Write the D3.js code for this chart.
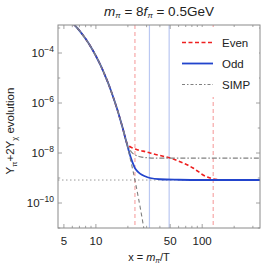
<!DOCTYPE html>
<html><head><meta charset="utf-8">
<script src="https://cdn.jsdelivr.net/npm/d3@7"></script>
<style>body{margin:0;background:#fff}svg{display:block}text{font-family:"Liberation Sans",Arial,sans-serif;fill:#222}</style>
</head><body>
<script>
// ---- data ----
// shared equilibrium part (all curves coincide here)
const commonX = [5.5, 6, 7, 8, 9, 10, 11, 12, 13, 14, 15, 16, 17, 18, 19];
const commonY = [2.3e-3, 1.62e-3, 7.9e-4, 3.7e-4, 1.7e-4, 7.6e-5, 3.4e-5, 1.48e-5, 6.5e-6, 2.75e-6, 1.17e-6, 5.0e-7, 2.1e-7, 8.9e-8, 3.7e-8];
const eqTailX   = [19.6, 20, 21, 22, 23, 24, 25, 26, 27, 28, 29, 30];
const eqTailY   = [2.2e-8, 1.55e-8, 6.3e-9, 2.6e-9, 1.08e-9, 4.4e-10, 1.8e-10, 7.4e-11, 3e-11, 1.2e-11, 5e-12, 2e-12];
const oddTailX  = [19.6, 20.3, 21, 21.7, 22.5, 23.3, 24.5, 26, 29, 32.3, 40, 60, 100, 350];
const oddTailY  = [2.3e-8, 1.32e-8, 7.9e-9, 5.2e-9, 3.5e-9, 2.5e-9, 1.9e-9, 1.5e-9, 1.17e-9, 1e-9, 8.9e-10, 8.5e-10, 8.3e-10, 8.3e-10];
const evenTailX = [19.6, 20.5, 22, 25, 30, 35, 42, 50, 62, 72, 82, 92, 102, 115, 127, 150, 200, 350];
const evenTailY = [2.4e-8, 1.9e-8, 1.6e-8, 1.32e-8, 1.1e-8, 9.1e-9, 7.6e-9, 6.3e-9, 4.5e-9, 3.4e-9, 2.5e-9, 1.8e-9, 1.32e-9, 1.05e-9, 9.1e-10, 8.5e-10, 8.3e-10, 8.3e-10];
const simpTailX = [19.6, 20.5, 21.5, 23, 26, 30, 40, 350];
const simpTailY = [2.4e-8, 1.6e-8, 1.12e-8, 8.7e-9, 7.1e-9, 6.5e-9, 6.2e-9, 6.2e-9];
const relicY = 8.3e-10;
const evenMarks = [23.3, 127];
const oddMarks  = [31.9, 48.9];
const xTickMajor = [5, 10, 50, 100];
const xTickMinor = [6, 7, 8, 9, 20, 30, 40, 60, 70, 80, 90, 200, 300];
const yTickMajor = [-4, -6, -8, -10];
const yTickMinor = [-3, -5, -7, -9, -11];
const legendNames = ["Even", "Odd", "SIMP"];

// ---- layout ----
const W = 266, H = 271;
const L = 58, R = 260, T = 25, B = 228;
const x = d3.scaleLog().domain([4.4, 350]).range([L, R]);
const y = d3.scaleLog().domain([1e-11, Math.pow(10, -2.88)]).range([B, T]);

const svg = d3.select("body").append("svg").attr("width", W).attr("height", H);
svg.append("defs").append("clipPath").attr("id", "clip")
  .append("rect").attr("x", L).attr("y", T).attr("width", R - L).attr("height", B - T);
const g = svg.append("g").attr("clip-path", "url(#clip)");

// vertical markers
g.selectAll(".em").data(evenMarks).enter().append("line")
  .attr("x1", d => x(d)).attr("x2", d => x(d)).attr("y1", T).attr("y2", B)
  .attr("stroke", "#f7a8a8").attr("stroke-width", 1.2).attr("stroke-dasharray", "4,3");
g.selectAll(".om").data(oddMarks).enter().append("line")
  .attr("x1", d => x(d)).attr("x2", d => x(d)).attr("y1", T).attr("y2", B)
  .attr("stroke", "#bac8f2").attr("stroke-width", 1.2);
// relic dotted
g.append("line").attr("x1", L).attr("x2", R).attr("y1", y(relicY)).attr("y2", y(relicY))
  .attr("stroke", "#999").attr("stroke-width", 1).attr("stroke-dasharray", "1.5,2.5");

const line = d3.line().x(d => x(d[0])).y(d => y(d[1])).curve(d3.curveMonotoneX);
const zip = (a, b) => a.map((v, i) => [v, b[i]]);
const full = (tx, ty) => zip(commonX.concat(tx), commonY.concat(ty));

const red = "#ee2020", blue = "#2244cc", gray = "#808080";
g.append("path").attr("d", line(full(evenTailX, evenTailY))).attr("fill", "none").attr("stroke", red).attr("stroke-width", 1.6).attr("stroke-dasharray", "4,2.5");
g.append("path").attr("d", line(full(oddTailX, oddTailY))).attr("fill", "none").attr("stroke", blue).attr("stroke-width", 1.8);
g.append("path").attr("d", line(full(simpTailX, simpTailY))).attr("fill", "none").attr("stroke", gray).attr("stroke-width", 1.2).attr("stroke-dasharray", "5,2,1.5,2");
g.append("path").attr("d", line(full(eqTailX, eqTailY))).attr("fill", "none").attr("stroke", gray).attr("stroke-width", 1.1).attr("stroke-dasharray", "4,3");

// frame
svg.append("rect").attr("x", L).attr("y", T).attr("width", R - L).attr("height", B - T)
  .attr("fill", "none").attr("stroke", "#8a8a8a").attr("stroke-width", 1);
const tk = svg.append("g").attr("stroke", "#8a8a8a").attr("stroke-width", 0.8);
function xt(v, len) {
  tk.append("line").attr("x1", x(v)).attr("x2", x(v)).attr("y1", B).attr("y2", B - len);
  tk.append("line").attr("x1", x(v)).attr("x2", x(v)).attr("y1", T).attr("y2", T + len);
}
xTickMajor.forEach(v => xt(v, 4));
xTickMinor.forEach(v => xt(v, 2.2));
function yt(e, len) {
  const yy = y(Math.pow(10, e));
  tk.append("line").attr("x1", L).attr("x2", L + len).attr("y1", yy).attr("y2", yy);
  tk.append("line").attr("x1", R).attr("x2", R - len).attr("y1", yy).attr("y2", yy);
}
yTickMajor.forEach(e => yt(e, 4));
yTickMinor.forEach(e => yt(e, 2.2));

// tick labels
xTickMajor.forEach(v => svg.append("text").attr("x", x(v)).attr("y", 245)
  .attr("text-anchor", "middle").attr("font-size", 11.5).text(v));
yTickMajor.forEach(e => {
  const t = svg.append("text").attr("x", 54).attr("y", y(Math.pow(10, e)) + 4)
    .attr("text-anchor", "end").attr("font-size", 11.5);
  t.append("tspan").text("10");
  t.append("tspan").attr("dy", -5).attr("font-size", 8.5).text("\u2212" + Math.abs(e));
});

// title
const title = svg.append("text").attr("x", 159).attr("y", 16).attr("text-anchor", "middle").attr("font-size", 13.5);
title.append("tspan").attr("font-style", "italic").text("m");
title.append("tspan").attr("font-size", 8).attr("dy", 2).attr("font-style", "italic").text("\u03c0");
title.append("tspan").attr("dy", -2).text(" = 8");
title.append("tspan").attr("font-style", "italic").text("f");
title.append("tspan").attr("font-size", 8).attr("dy", 2).attr("font-style", "italic").text("\u03c0");
title.append("tspan").attr("dy", -2).text(" = 0.5GeV");

// x label
const xl = svg.append("text").attr("x", 149).attr("y", 261).attr("text-anchor", "middle").attr("font-size", 11);
xl.append("tspan").text("x = ");
xl.append("tspan").attr("font-style", "italic").text("m");
xl.append("tspan").attr("font-size", 7).attr("dy", 2).attr("font-style", "italic").text("\u03c0");
xl.append("tspan").attr("dy", -2).text("/T");

// y label
const yl = svg.append("text").attr("transform", "translate(14,131) rotate(-90)").attr("text-anchor", "middle").attr("font-size", 11.5);
yl.append("tspan").text("Y");
yl.append("tspan").attr("font-size", 7.5).attr("dy", 2.5).text("\u03c0");
yl.append("tspan").attr("dy", -2.5).text("+2Y");
yl.append("tspan").attr("font-size", 7.5).attr("dy", 2.5).text("\u03c7");
yl.append("tspan").attr("dy", -2.5).text(" evolution");

// legend
svg.append("rect").attr("x", 178).attr("y", 27).attr("width", 81).attr("height", 70).attr("fill", "#fff");
const styles = [
  {c: red, w: 1.6, d: "4,2.5"},
  {c: blue, w: 1.8, d: null},
  {c: gray, w: 1.2, d: "3,2,1.5,2"}
];
legendNames.forEach((n, i) => {
  const yy = 42.5 + i * 21;
  const l = svg.append("line").attr("x1", 182).attr("x2", 213).attr("y1", yy).attr("y2", yy)
    .attr("stroke", styles[i].c).attr("stroke-width", styles[i].w);
  if (styles[i].d) l.attr("stroke-dasharray", styles[i].d);
  svg.append("text").attr("x", 222).attr("y", yy + 4).attr("font-size", 11.5).text(n);
});
</script>
</body></html>
